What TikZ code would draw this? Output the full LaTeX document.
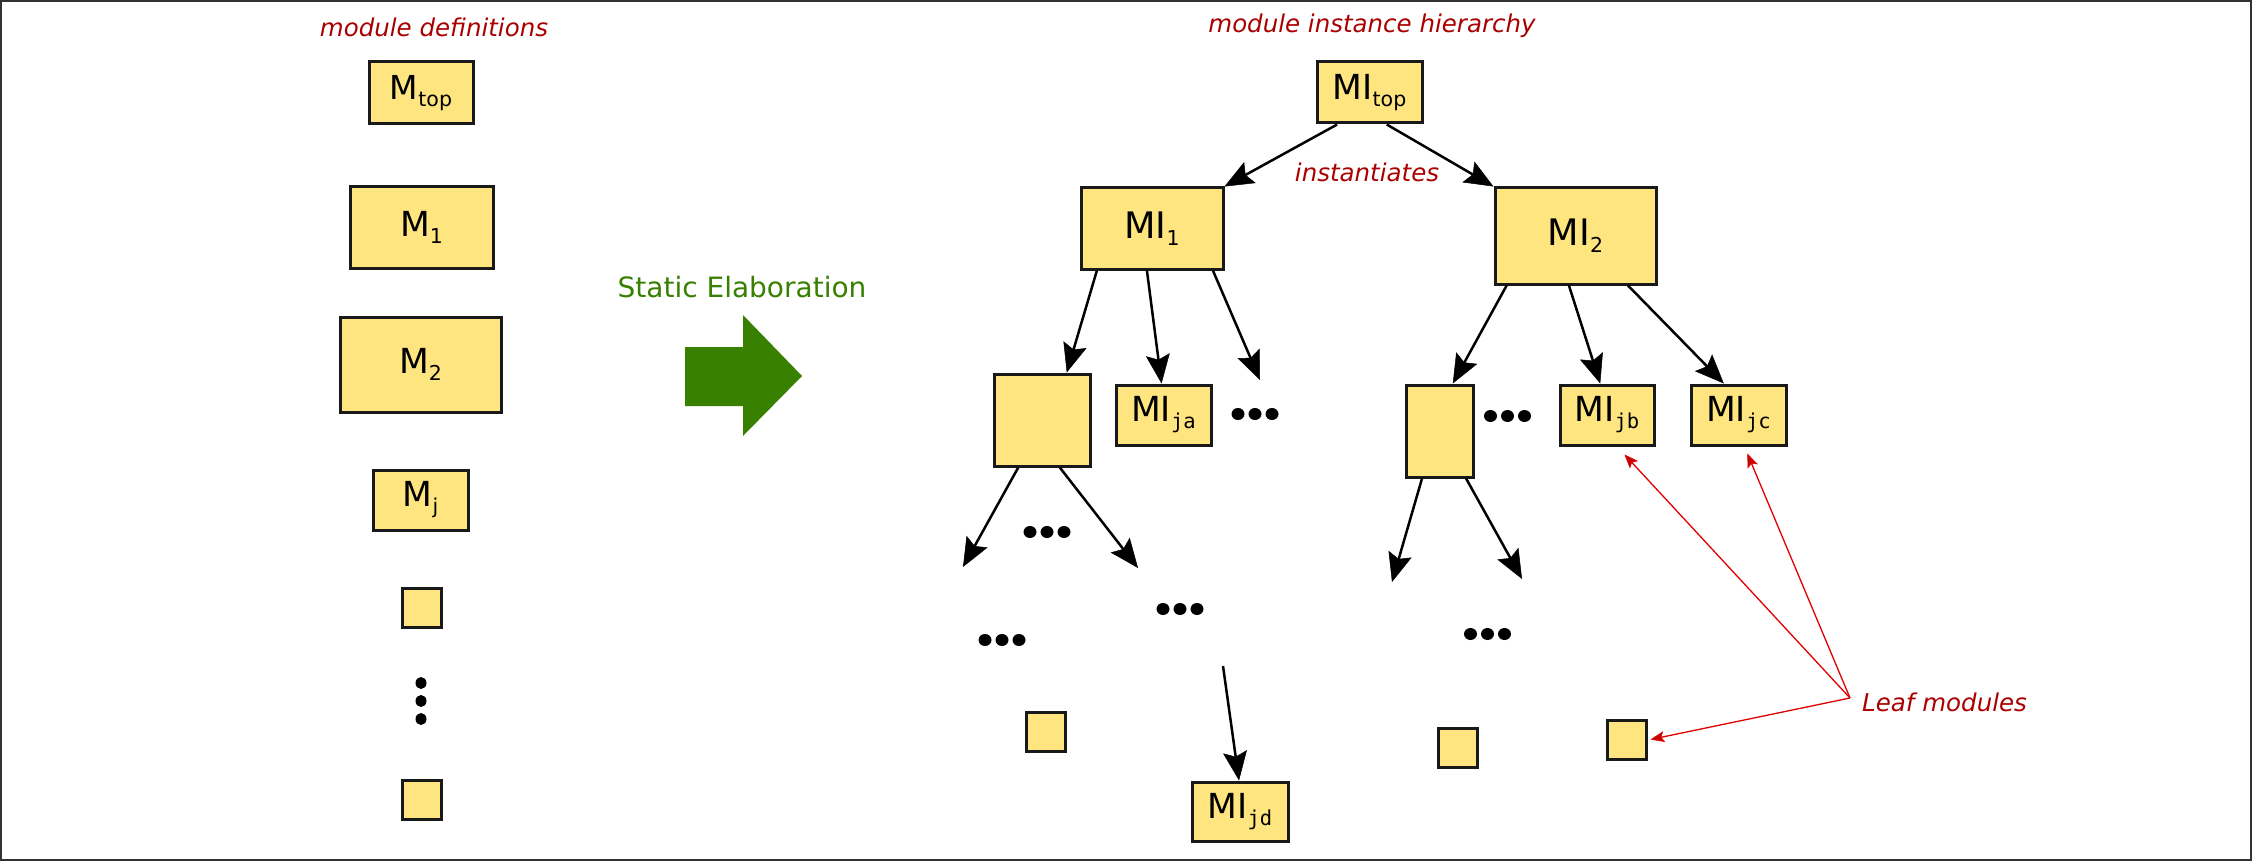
\documentclass[tikz,border=0pt]{standalone}
\usepackage{fontspec}
\setmainfont{DejaVu Sans}
\newfontfamily\submono{DejaVu Sans Mono}
\usetikzlibrary{arrows.meta,calc}
\definecolor{boxfill}{RGB}{255,229,128}
\definecolor{labred}{RGB}{170,0,0}
\definecolor{arrred}{RGB}{225,0,0}
\definecolor{tipred}{RGB}{200,0,0}
\definecolor{elabgreen}{RGB}{56,128,0}
\definecolor{framegray}{RGB}{50,50,50}
\newcommand{\sbs}[1]{\raisebox{-7pt}{\fontsize{20.5}{20.5}\selectfont #1}}
\newcommand{\sbm}[1]{\raisebox{-7pt}{\fontsize{20.5}{20.5}\selectfont\submono #1}}
\tikzset{
  modbox/.style={draw=black!90, line width=3pt, fill=boxfill, inner sep=0pt,
    font=\fontsize{34.5}{34.5}\selectfont},
  bigfont/.style={font=\fontsize{36.5}{36.5}\selectfont},
  lab/.style={text=labred, font=\fontsize{24.5}{28}\selectfont\itshape, inner sep=0pt},
  blkarr/.style={draw=black, line width=2.5pt,
    -{Stealth[length=29pt,width=24pt,inset=5pt,line width=0.5pt]}},
  redarr/.style={draw=arrred, line width=1.3pt,
    -{Stealth[length=14pt,width=11pt,inset=3pt,fill=tipred,line width=0.6pt]}},
  hdots/.style={minimum width=48pt, minimum height=14pt, inner sep=0pt,
    path picture={
      \fill ($(path picture bounding box.center)+(-17,0)$) ellipse [x radius=6.5, y radius=6];
      \fill (path picture bounding box.center) ellipse [x radius=6.5, y radius=6];
      \fill ($(path picture bounding box.center)+(17,0)$) ellipse [x radius=6.5, y radius=6];
    }},
  vdots/.style={minimum width=14pt, minimum height=52pt, inner sep=0pt,
    path picture={
      \fill ($(path picture bounding box.center)+(0,-18)$) ellipse [x radius=5.5, y radius=6];
      \fill (path picture bounding box.center) ellipse [x radius=5.5, y radius=6];
      \fill ($(path picture bounding box.center)+(0,18)$) ellipse [x radius=5.5, y radius=6];
    }},
}
\begin{document}
\begin{tikzpicture}[x=1pt,y=-1pt]
\useasboundingbox (0,0) rectangle (2252,861);
\draw[framegray, line width=2pt] (1,1) rectangle (2251,860);

% ---------- left column: module definitions ----------
\node[lab] (tleft) at (434,27) {module definitions};
\node[modbox, minimum width=104pt, minimum height=62pt, font=\fontsize{33}{33}\selectfont] (mtop) at (421,93) {M\sbs{top}};
\node[modbox, minimum width=143pt, minimum height=81pt] (m1) at (421.5,227.5) {M\sbs{1}};
\node[modbox, minimum width=161pt, minimum height=95pt] (m2) at (420.5,364.5) {M\sbs{2}};
\node[modbox, minimum width=95pt, minimum height=60pt] (mj) at (420.5,500) {M\sbs{j}};
\node[modbox, minimum width=39pt, minimum height=39pt] (sqa) at (421.5,607.5) {};
\node[vdots] (vd) at (421,701) {};
\node[modbox, minimum width=39pt, minimum height=39pt] (sqb) at (421.5,799.5) {};

% ---------- static elaboration ----------
\node[text=elabgreen, font=\fontsize{28}{32}\selectfont, inner sep=0pt] (se) at (742,287) {Static Elaboration};
\fill[elabgreen] (685,347) -- (743,347) -- (743,315) -- (802,376) -- (743,436) -- (743,406) -- (685,406) -- cycle;

% ---------- right: module instance hierarchy ----------
\node[lab] (tright) at (1372,26) {module instance hierarchy};
\node[modbox, minimum width=105pt, minimum height=61pt] (mitop) at (1369.5,92.5) {MI\sbs{top}};
\node[modbox, bigfont, minimum width=142pt, minimum height=81pt] (mi1) at (1152,228.5) {MI\sbs{1}};
\node[modbox, bigfont, minimum width=161pt, minimum height=96pt] (mi2) at (1575.5,236) {MI\sbs{2}};
\node[lab] (inst) at (1367,172) {instantiates};

\node[modbox, minimum width=96pt, minimum height=92pt] (bx1) at (1042,420) {};
\node[modbox, minimum width=95pt, minimum height=60pt] (mija) at (1163.5,415) {MI\sbm{ja}};
\node[hdots] (da) at (1255,414) {};
\node[hdots] (db) at (1047,532) {};
\node[hdots] (dc) at (1180,609) {};
\node[hdots] (dd) at (1002,640) {};
\node[modbox, minimum width=39pt, minimum height=39pt] (sqc) at (1045.5,731.5) {};
\node[modbox, minimum width=96pt, minimum height=59pt] (mijd) at (1240,811.5) {MI\sbm{jd}};

\node[modbox, minimum width=67pt, minimum height=92pt] (bx2) at (1439.5,431) {};
\node[hdots] (de) at (1507.5,416) {};
\node[modbox, minimum width=94pt, minimum height=60pt] (mijb) at (1607,415) {MI\sbm{jb}};
\node[modbox, minimum width=95pt, minimum height=60pt] (mijc) at (1738.5,415) {MI\sbm{jc}};
\node[hdots] (df) at (1487.5,634) {};
\node[modbox, minimum width=39pt, minimum height=39pt] (sqd) at (1457.5,747.5) {};
\node[modbox, minimum width=39pt, minimum height=39pt] (sqe) at (1626.5,739.5) {};

\node[lab, anchor=west] (leaf) at (1862,702) {Leaf modules};

% free ends
\coordinate (f1) at (1260,380);
\coordinate (f2) at (963,567);
\coordinate (f3) at (1138,568);
\coordinate (f4) at (1223,666);
\coordinate (f5) at (1392,582);
\coordinate (f6) at (1522,579);
\coordinate (lp) at (1850,698);

% ---------- black connectors ----------
\draw[blkarr] ($(mitop.south west)!0.2!(mitop.south east)$) -- (mi1.north east);
\draw[blkarr] ($(mitop.south west)!0.66!(mitop.south east)$) -- (mi2.north west);
\draw[blkarr] ($(mi1.south west)!0.12!(mi1.south east)$) -- ($(bx1.north west)!0.75!(bx1.north east)$);
\draw[blkarr] ($(mi1.south west)!0.465!(mi1.south east)$) -- ($(mija.north west)!0.48!(mija.north east)$);
\draw[blkarr] ($(mi1.south west)!0.92!(mi1.south east)$) -- (f1);
\draw[blkarr] ($(bx1.south west)!0.26!(bx1.south east)$) -- (f2);
\draw[blkarr] ($(bx1.south west)!0.68!(bx1.south east)$) -- (f3);
\draw[blkarr] (f4) -- ($(mijd.north west)!0.49!(mijd.north east)$);
\draw[blkarr] ($(mi2.south west)!0.08!(mi2.south east)$) -- ($(bx2.north west)!0.69!(bx2.north east)$);
\draw[blkarr] ($(mi2.south west)!0.46!(mi2.south east)$) -- ($(mijb.north west)!0.43!(mijb.north east)$);
\draw[blkarr] ($(mi2.south west)!0.82!(mi2.south east)$) -- ($(mijc.north west)!0.35!(mijc.north east)$);
\draw[blkarr] ($(bx2.south west)!0.25!(bx2.south east)$) -- (f5);
\draw[blkarr] ($(bx2.south west)!0.88!(bx2.south east)$) -- (f6);

% ---------- red connectors ----------
\draw[redarr] (lp) -- ($(mijb.south west)!0.68!(mijb.south east)+(0,8)$);
\draw[redarr] (lp) -- ($(mijc.south west)!0.59!(mijc.south east)+(0,7)$);
\draw[redarr] (lp) -- ($(sqe.east)+(3,0)$);
\end{tikzpicture}
\end{document}
